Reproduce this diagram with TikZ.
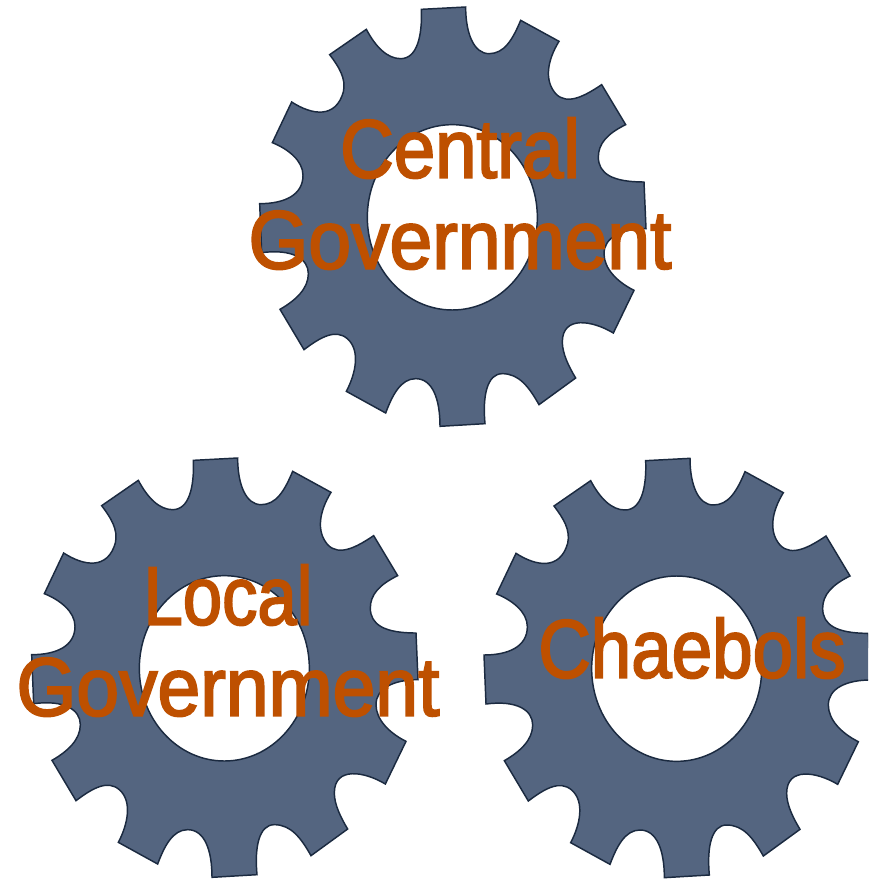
\documentclass[tikz,border=0pt]{standalone}
\usepackage{fontspec}
\newfontfamily\lab[FakeBold=2.5]{Liberation Sans}
\definecolor{gearfill}{HTML}{546580}
\definecolor{gearline}{HTML}{1B2A40}
\definecolor{labelcol}{HTML}{BE5000}
\newcommand{\gearoutline}{%
  (527,32) -- (660,25)
  .. controls (660,105) and (685,165) .. (730,165) .. controls (775,165) and (800,125) .. (825,65)
  -- (940,128)
  .. controls (905,185) and (895,245) .. (930,285) .. controls (965,322) and (1020,290) .. (1068,258)
  -- (1140,378)
  .. controls (1085,405) and (1058,435) .. (1058,475) .. controls (1058,525) and (1100,550) .. (1195,550)
  -- (1201,690)
  .. controls (1130,690) and (1075,715) .. (1075,765) .. controls (1075,810) and (1115,850) .. (1165,875)
  -- (1103,1003)
  .. controls (1040,965) and (950,950) .. (950,1030) .. controls (950,1065) and (970,1105) .. (990,1138)
  -- (880,1218)
  .. controls (850,1165) and (820,1125) .. (770,1125) .. controls (725,1125) and (710,1190) .. (718,1275)
  -- (583,1283)
  .. controls (583,1200) and (560,1140) .. (510,1140) .. controls (465,1140) and (440,1190) .. (420,1243)
  -- (302,1178)
  .. controls (330,1125) and (345,1055) .. (305,1020) .. controls (270,990) and (225,1015) .. (175,1053)
  -- (103,932)
  .. controls (150,905) and (188,870) .. (188,825) .. controls (188,780) and (140,750) .. (48,762)
  -- (42,615)
  .. controls (115,615) and (172,590) .. (172,530) .. controls (172,485) and (125,450) .. (80,432)
  -- (138,310)
  .. controls (200,350) and (270,360) .. (293,280) .. controls (302,240) and (280,205) .. (252,168)
  -- (362,92)
  .. controls (390,145) and (425,180) .. (465,180) .. controls (515,180) and (530,110) .. (527,32)
  -- cycle
  (620,656) ellipse (255 and 278)}
\tikzset{
  gearshape/.style={fill=gearfill,draw=gearline,line width=1.1pt,even odd rule,line join=miter},
  gearlabel/.style={text=labelcol,inner sep=0pt,anchor=south,align=center,
    font=\lab\fontsize{62}{68.25}\selectfont}
}
\begin{document}
\begin{tikzpicture}[x=.25pt,y=-.25pt]
  \useasboundingbox (0,0) rectangle (2604,2640);
  \clip (0,0) rectangle (2604,2640);
  \begin{scope}[shift={(737,-4)}]
    \path[gearshape] \gearoutline;
  \end{scope}
  \begin{scope}[shift={(53,1349)}]
    \path[gearshape] \gearoutline;
  \end{scope}
  \begin{scope}[shift={(1410,1350)}]
    \path[gearshape] \gearoutline;
  \end{scope}
  \node[gearlabel] (central) at (1380,809) {\scalebox{.9}[1]{Central}\\\scalebox{.93}[1]{Government}};
  \node[gearlabel] (local) at (684,2150) {\scalebox{.855}[1]{Local}\\\scalebox{.93}[1]{Government}};
  \node[gearlabel] (chaebols) at (2076,2036) {\scalebox{.88}[1]{Chaebols}};
\end{tikzpicture}
\end{document}
